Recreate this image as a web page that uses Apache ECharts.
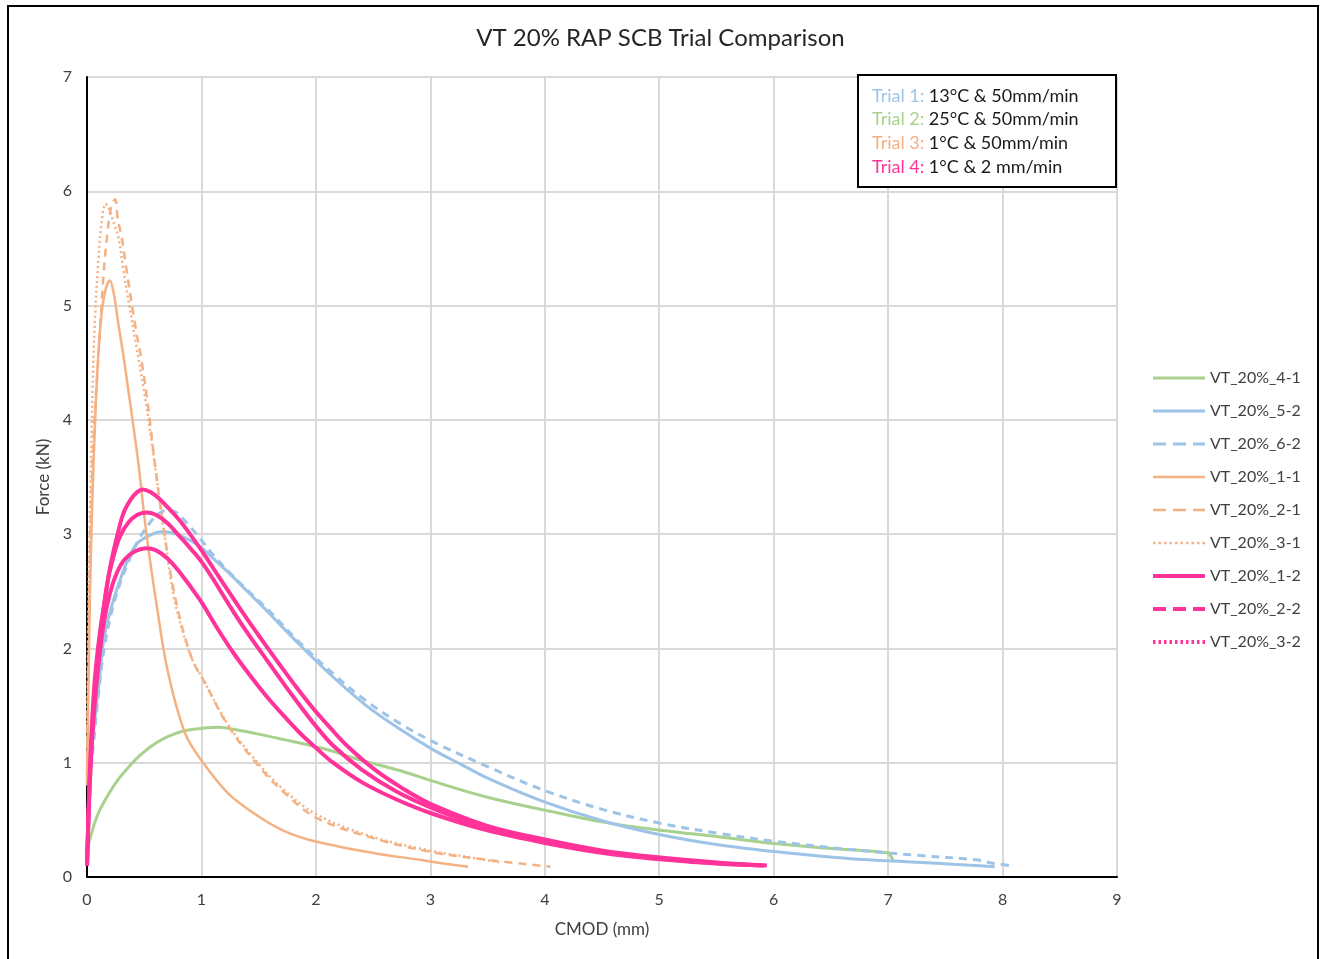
<!DOCTYPE html>
<html>
<head>
<meta charset="utf-8">
<script src="https://cdn.jsdelivr.net/npm/echarts@6/dist/echarts.min.js"></script>
<style>
  html, body { margin: 0; padding: 0; background: #ffffff; }
  #chart { width: 1321px; height: 959px; }
</style>
</head>
<body>
<div id="chart"></div>
<script>
// CMOD (mm) vs Force (kN) curves, [cmod, force]
const vt41 = [[0,0.2],[0.01,0.27],[0.05,0.42],[0.1,0.56],[0.18,0.71],[0.27,0.85],[0.37,0.97],[0.48,1.08],[0.6,1.17],[0.71,1.23],[0.85,1.28],[1.0,1.3],[1.15,1.31],[1.29,1.29],[1.5,1.25],[1.73,1.2],[2.0,1.14],[2.15,1.1],[2.4,1.02],[2.74,0.93],[3.0,0.845],[3.49,0.7],[4.0,0.585],[4.51,0.48],[5.01,0.41],[5.53,0.35],[6.03,0.29],[6.5,0.25],[7.0,0.21],[7.03,0.17],[7.05,0.13]];
const vt52 = [[0,0.15],[0.01,0.5],[0.026,0.9],[0.055,1.25],[0.1,1.65],[0.15,2.1],[0.23,2.42],[0.3,2.63],[0.376,2.82],[0.45,2.93],[0.55,2.99],[0.65,3.02],[0.75,3.01],[0.87,2.96],[0.99,2.89],[1.1,2.79],[1.25,2.65],[1.4,2.5],[1.57,2.33],[1.86,2.03],[2.15,1.75],[2.44,1.5],[2.74,1.29],[3.03,1.11],[3.26,0.99],[3.49,0.87],[3.99,0.66],[4.51,0.49],[5.01,0.37],[5.53,0.28],[6.03,0.22],[6.67,0.16],[7.25,0.13],[7.6,0.11],[7.93,0.09]];
const vt62 = [[0,0.1],[0.01,0.45],[0.03,0.85],[0.06,1.2],[0.1,1.6],[0.15,2.0],[0.23,2.38],[0.3,2.6],[0.38,2.8],[0.45,2.95],[0.55,3.1],[0.63,3.18],[0.7,3.21],[0.78,3.19],[0.87,3.1],[0.99,2.96],[1.1,2.82],[1.25,2.66],[1.4,2.51],[1.57,2.35],[1.86,2.05],[2.15,1.78],[2.44,1.54],[2.74,1.34],[3.03,1.18],[3.49,0.97],[3.99,0.76],[4.51,0.59],[5.01,0.47],[5.53,0.38],[6.03,0.31],[6.67,0.24],[7.25,0.19],[7.77,0.15],[7.89,0.125],[8.09,0.096]];
const vt11 = [[0,0.8],[0.01,1.5],[0.025,2.4],[0.041,3.1],[0.07,3.97],[0.1,4.6],[0.13,4.95],[0.165,5.15],[0.2,5.22],[0.235,5.1],[0.274,4.84],[0.32,4.55],[0.361,4.26],[0.405,3.95],[0.449,3.62],[0.52,3.0],[0.61,2.37],[0.71,1.78],[0.856,1.26],[1.0,1.02],[1.235,0.73],[1.5,0.53],[1.73,0.4],[2.0,0.31],[2.5,0.21],[2.91,0.15],[3.1,0.12],[3.33,0.09]];
const vt21 = [[0,0.9],[0.01,1.8],[0.03,3.0],[0.06,3.9],[0.1,4.55],[0.143,5.25],[0.18,5.65],[0.215,5.88],[0.245,5.93],[0.27,5.75],[0.303,5.6],[0.34,5.35],[0.419,4.84],[0.48,4.5],[0.536,4.1],[0.6,3.56],[0.68,2.98],[0.78,2.4],[0.92,1.9],[1.03,1.7],[1.235,1.32],[1.5,0.97],[1.7,0.76],[2.0,0.52],[2.5,0.34],[3.0,0.22],[3.5,0.15],[4.05,0.09]];
const vt31 = [[0,1.0],[0.01,2.2],[0.03,3.4],[0.05,4.3],[0.07,4.9],[0.1,5.4],[0.13,5.75],[0.163,5.89],[0.2,5.83],[0.235,5.72],[0.274,5.6],[0.32,5.3],[0.361,5.05],[0.43,4.65],[0.507,4.2],[0.594,3.6],[0.67,3.05],[0.76,2.45],[0.9,1.95],[1.02,1.72],[1.235,1.33],[1.5,0.99],[1.7,0.78],[2.0,0.55],[2.5,0.35],[3.0,0.23],[3.3,0.18],[3.6,0.13]];
const vt12 = [[0,0.1],[0.02,0.8],[0.041,1.3],[0.07,1.75],[0.114,2.15],[0.16,2.45],[0.2,2.7],[0.26,2.97],[0.317,3.18],[0.38,3.3],[0.44,3.37],[0.49,3.39],[0.55,3.37],[0.62,3.32],[0.7,3.24],[0.81,3.12],[0.9,3.0],[1.02,2.83],[1.15,2.63],[1.25,2.48],[1.37,2.3],[1.51,2.1],[1.69,1.85],[1.83,1.66],[1.98,1.47],[2.13,1.3],[2.27,1.15],[2.5,0.95],[2.75,0.78],[3.0,0.64],[3.49,0.45],[3.99,0.33],[4.51,0.23],[5.01,0.17],[5.53,0.125],[5.94,0.1]];
const vt22 = [[0,0.1],[0.02,0.75],[0.041,1.2],[0.07,1.65],[0.11,2.05],[0.172,2.54],[0.23,2.8],[0.288,2.98],[0.36,3.1],[0.44,3.17],[0.52,3.19],[0.6,3.17],[0.7,3.1],[0.81,2.98],[0.9,2.88],[1.0,2.76],[1.1,2.61],[1.28,2.32],[1.42,2.11],[1.57,1.9],[1.72,1.69],[1.86,1.5],[2.0,1.32],[2.15,1.15],[2.4,0.94],[2.7,0.75],[3.0,0.61],[3.49,0.43],[3.99,0.31],[4.51,0.22],[5.01,0.16],[5.53,0.12],[5.92,0.1]];
const vt32 = [[0,0.1],[0.02,0.7],[0.041,1.15],[0.07,1.55],[0.1,1.85],[0.143,2.2],[0.2,2.48],[0.26,2.66],[0.33,2.78],[0.42,2.85],[0.52,2.876],[0.6,2.86],[0.7,2.79],[0.8,2.68],[0.99,2.42],[1.13,2.19],[1.28,1.96],[1.42,1.77],[1.57,1.58],[1.72,1.41],[1.86,1.26],[2.0,1.13],[2.15,1.0],[2.4,0.83],[2.7,0.68],[3.0,0.56],[3.49,0.41],[3.99,0.3],[4.51,0.21],[5.01,0.155],[5.53,0.115],[5.9,0.1]];

const seriesNames = ['VT_20%_4-1','VT_20%_5-2','VT_20%_6-2','VT_20%_1-1','VT_20%_2-1','VT_20%_3-1','VT_20%_1-2','VT_20%_2-2','VT_20%_3-2'];
const seriesData = [vt41, vt52, vt62, vt11, vt21, vt31, vt12, vt22, vt32];

const trialLabels = ['Trial 1:','Trial 2:','Trial 3:','Trial 4:'];
const trialConditions = ['13°C & 50mm/min','25°C & 50mm/min','1°C & 50mm/min','1°C & 2 mm/min'];

const xTicks = [0,1,2,3,4,5,6,7,8,9];
const yTicks = [0,1,2,3,4,5,6,7];

const GREEN = '#A9D18E', BLUE = '#9DC3E6', ORANGE = '#F4B183', PINK = '#FF3399';
const FONT = 'Lato';
const TEXT = '#404040';

// colour, width, dash in the plot, dash of the legend sample
const styles = [
  { color: GREEN,  width: 3,   type: 'solid', legendType: 'solid' },
  { color: BLUE,   width: 3,   type: 'solid', legendType: 'solid' },
  { color: BLUE,   width: 3,   type: [8, 6], legendType: [13, 7] },
  { color: ORANGE, width: 2.5, type: 'solid', legendType: 'solid' },
  { color: ORANGE, width: 2.5, type: [8, 6], legendType: [13, 7] },
  { color: ORANGE, width: 2.5, type: [2, 3], legendType: [2.5, 3] },
  { color: PINK,   width: 4,   type: 'solid', legendType: 'solid' },
  { color: PINK,   width: 4,   type: 'solid', legendType: [13, 7] },
  { color: PINK,   width: 4,   type: 'solid', legendType: [2.5, 3] }
];

const series = seriesNames.map((name, i) => ({
  name: name,
  type: 'line',
  data: seriesData[i],
  smooth: 0.35,
  symbol: 'none',
  showSymbol: false,
  animation: false,
  color: styles[i].color,
  lineStyle: { color: styles[i].color, width: styles[i].width, type: styles[i].type }
}));

const trialColors = [BLUE, GREEN, ORANGE, PINK];
const boxText = trialLabels.map((t, i) => '{t' + i + '|' + t + '} {c|' + trialConditions[i] + '}').join('\n');
const boxRich = { c: { fill: '#1a1a1a', fontFamily: FONT, fontSize: 18, lineHeight: 23.7 } };
trialColors.forEach((col, i) => {
  boxRich['t' + i] = { fill: col, fontFamily: FONT, fontSize: 18, lineHeight: 23.7 };
});

const chart = echarts.init(document.getElementById('chart'), null, { renderer: 'canvas' });
chart.setOption({
  backgroundColor: '#ffffff',
  animation: false,
  title: {
    text: 'VT 20% RAP SCB Trial Comparison',
    left: 'center',
    top: 21,
    textStyle: { fontFamily: FONT, fontSize: 24, fontWeight: 'normal', color: '#262626' }
  },
  grid: { left: 87, right: 204, top: 77, bottom: 82, containLabel: false },
  xAxis: {
    type: 'value', min: 0, max: 9, interval: 1,
    name: 'CMOD (mm)', nameLocation: 'middle', nameGap: 44,
    nameTextStyle: { fontFamily: FONT, fontSize: 17, color: TEXT },
    axisLine: { show: true, onZero: false, lineStyle: { color: '#000000', width: 2 } },
    axisTick: { show: false },
    axisLabel: { fontFamily: FONT, fontSize: 16, color: TEXT, margin: 15,
      formatter: v => xTicks.includes(v) ? String(v) : '' },
    splitLine: { show: true, lineStyle: { color: '#D9D9D9', width: 2 } }
  },
  yAxis: {
    type: 'value', min: 0, max: 7, interval: 1,
    name: 'Force (kN)', nameLocation: 'middle', nameGap: 32, nameRotate: 90,
    nameTextStyle: { fontFamily: FONT, fontSize: 17, color: TEXT },
    axisLine: { show: true, onZero: false, lineStyle: { color: '#000000', width: 2 } },
    axisTick: { show: false },
    axisLabel: { fontFamily: FONT, fontSize: 16, color: TEXT, margin: 15,
      formatter: v => yTicks.includes(v) ? String(v) : '' },
    splitLine: { show: true, lineStyle: { color: '#D9D9D9', width: 2 } }
  },
  legend: {
    orient: 'vertical',
    left: 1151,
    top: 370,
    padding: 0,
    itemWidth: 52,
    itemHeight: 14,
    itemGap: 17,
    selectedMode: false,
    textStyle: { fontFamily: FONT, fontSize: 16, color: TEXT },
    data: seriesNames.map((name, i) => ({
      name: name,
      itemStyle: { opacity: 0 },
      lineStyle: { color: styles[i].color, width: styles[i].width, type: styles[i].legendType }
    }))
  },
  graphic: [
    {
      type: 'rect',
      shape: { x: 8, y: 6, width: 1310, height: 970 },
      style: { fill: 'none', stroke: '#000000', lineWidth: 2 },
      silent: true, z: 100
    },
    {
      type: 'rect',
      shape: { x: 858, y: 75, width: 258, height: 112 },
      style: { fill: '#ffffff', stroke: '#000000', lineWidth: 2 },
      z: 100
    },
    {
      type: 'text',
      x: 872, y: 84,
      z: 101,
      style: { text: boxText, fontFamily: FONT, fontSize: 18, lineHeight: 23.7, rich: boxRich }
    }
  ],
  series: series
});
</script>
</body>
</html>
